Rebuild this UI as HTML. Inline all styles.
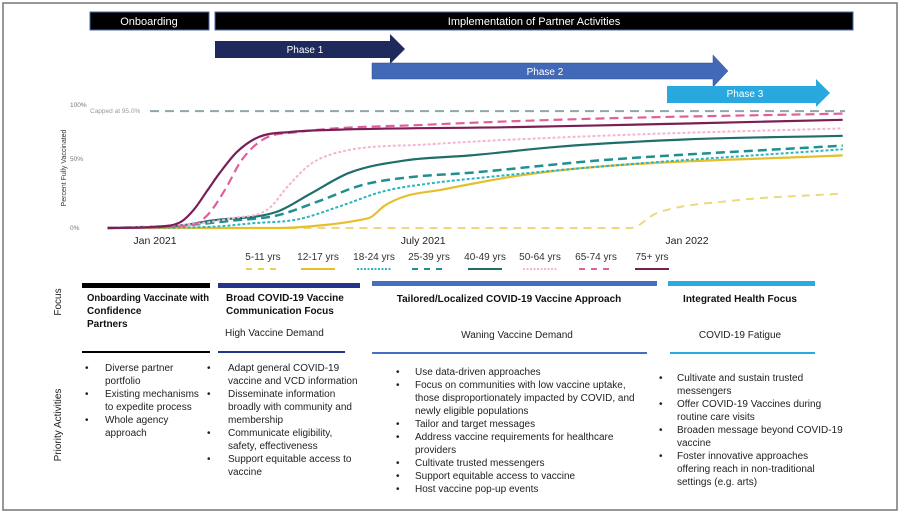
<!DOCTYPE html>
<html><head><meta charset="utf-8">
<style>
html,body{margin:0;padding:0;background:#fff}
svg{display:block;font-family:"Liberation Sans",sans-serif}
.b{font-weight:bold;font-size:10px;fill:#111}
.t{font-size:10px;fill:#222}
</style></head>
<body>
<svg id="chart" width="900" height="513" viewBox="0 0 900 513">
<rect x="3" y="3" width="894" height="507" fill="#fff" stroke="#777" stroke-width="1.5"/>
<g>
<rect x="90" y="12" width="119" height="18" fill="#000" stroke="#4a6aa8"/>
<text x="149" y="25" fill="#fff" font-size="11" text-anchor="middle">Onboarding</text></g>
<g>
<rect x="215" y="12" width="638" height="18" fill="#000" stroke="#4a6aa8"/>
<text x="534" y="25" fill="#fff" font-size="11" text-anchor="middle">Implementation of Partner Activities</text></g>
<g>
<polygon points="215,41 390,41 390,34 405,49 390,64 390,58 215,58" fill="#1f2a5c"/>
<text x="305" y="53" fill="#fff" font-size="10" text-anchor="middle">Phase 1</text></g>
<g>
<polygon points="372,63 713,63 713,55 728,71 713,87 713,79 372,79" fill="#4169b8" stroke="#2f4f8f" stroke-width="0.5"/>
<text x="545" y="75" fill="#fff" font-size="10" text-anchor="middle">Phase 2</text></g>
<g>
<polygon points="667,86 816,86 816,79 830,93 816,107 816,103 667,103" fill="#29a8e0"/>
<text x="745" y="97" fill="#fff" font-size="10" text-anchor="middle">Phase 3</text></g>
<text transform="translate(66,168) rotate(-90)" font-size="7" fill="#333" text-anchor="middle">Percent Fully Vaccinated</text>
<g id="yticks" font-size="6.5" fill="#777"></g>
<g id="xticks" font-size="10.5" fill="#222"></g>
<text x="90" y="113" font-size="6.5" fill="#999">Capped at 95.0%</text>
<g id="series"></g>
<g id="legend" font-size="10" fill="#333"></g>
<text transform="translate(61,302) rotate(-90)" font-size="10" fill="#222" text-anchor="middle">Focus</text>
<text transform="translate(61,425) rotate(-90)" font-size="10" fill="#222" text-anchor="middle">Priority Activities</text>
<g>
<rect x="82" y="283" width="128" height="5" fill="#000"/>
<text class="b" x="87" y="301" textLength="122" lengthAdjust="spacingAndGlyphs">Onboarding Vaccinate with</text>
<text class="b" x="87" y="314">Confidence</text>
<text class="b" x="87" y="327">Partners</text>
<rect x="82" y="351" width="128" height="2" fill="#000"/>
<g class="t">
<text x="85" y="371">•</text><text x="105" y="371">Diverse partner</text><text x="105" y="384">portfolio</text>
<text x="85" y="397">•</text><text x="105" y="397">Existing mechanisms</text><text x="105" y="410">to expedite process</text>
<text x="85" y="423">•</text><text x="105" y="423">Whole agency</text><text x="105" y="436">approach</text>
</g></g>
<g>
<rect x="218" y="283" width="142" height="5" fill="#24348a"/>
<text class="b" x="226" y="301">Broad COVID-19 Vaccine</text>
<text class="b" x="226" y="314">Communication Focus</text>
<text class="t" x="225" y="336">High Vaccine Demand</text>
<rect x="218" y="351" width="127" height="2" fill="#24348a"/>
<g class="t">
<text x="207" y="371">•</text><text x="228" y="371">Adapt general COVID-19</text><text x="228" y="384">vaccine and VCD information</text>
<text x="207" y="397">•</text><text x="228" y="397">Disseminate information</text><text x="228" y="410">broadly with community and</text><text x="228" y="423">membership</text>
<text x="207" y="436">•</text><text x="228" y="436">Communicate eligibility,</text><text x="228" y="449">safety, effectiveness</text>
<text x="207" y="462">•</text><text x="228" y="462">Support equitable access to</text><text x="228" y="475">vaccine</text>
</g></g>
<g>
<rect x="372" y="281" width="285" height="5" fill="#4470c4"/>
<text class="b" x="509" y="302" text-anchor="middle">Tailored/Localized COVID-19 Vaccine Approach</text>
<text class="t" x="517" y="338" text-anchor="middle">Waning Vaccine Demand</text>
<rect x="372" y="352" width="275" height="2" fill="#4470c4"/>
<g class="t">
<text x="396" y="375">•</text><text x="415" y="375">Use data-driven approaches</text>
<text x="396" y="388">•</text><text x="415" y="388">Focus on communities with low vaccine uptake,</text><text x="415" y="401">those disproportionately impacted by COVID, and</text><text x="415" y="414">newly eligible populations</text>
<text x="396" y="427">•</text><text x="415" y="427">Tailor and target messages</text>
<text x="396" y="440">•</text><text x="415" y="440">Address vaccine requirements for healthcare</text><text x="415" y="453">providers</text>
<text x="396" y="466">•</text><text x="415" y="466">Cultivate trusted messengers</text>
<text x="396" y="479">•</text><text x="415" y="479">Support equitable access to vaccine</text>
<text x="396" y="492">•</text><text x="415" y="492">Host vaccine pop-up events</text>
</g></g>
<g>
<rect x="668" y="281" width="147" height="5" fill="#29abe2"/>
<text class="b" x="740" y="302" text-anchor="middle">Integrated Health Focus</text>
<text class="t" x="740" y="338" text-anchor="middle">COVID-19 Fatigue</text>
<rect x="670" y="352" width="145" height="2" fill="#29abe2"/>
<g class="t">
<text x="659" y="381">•</text><text x="677" y="381">Cultivate and sustain trusted</text><text x="677" y="394">messengers</text>
<text x="659" y="407">•</text><text x="677" y="407">Offer COVID-19 Vaccines during</text><text x="677" y="420">routine care visits</text>
<text x="659" y="433">•</text><text x="677" y="433">Broaden message beyond COVID-19</text><text x="677" y="446">vaccine</text>
<text x="659" y="459">•</text><text x="677" y="459">Foster innovative approaches</text><text x="677" y="472">offering reach in non-traditional</text><text x="677" y="485">settings (e.g. arts)</text>
</g></g>
</svg>
<script>
const seriesNames = ["5-11 yrs","12-17 yrs","18-24 yrs","25-39 yrs","40-49 yrs","50-64 yrs","65-74 yrs","75+ yrs"];
const s511 = [[-1.4,0],[10.7,0],[11.3,12],[13,22],[15.6,28]];
const s1217 = [[-1.4,0],[2.5,0],[3.5,2],[4.5,7],[4.7,9],[5,18],[5.5,26],[6.3,31],[8,42],[10,50],[15.6,59]];
const s1824 = [[-1.4,0],[1,1],[2,4],[3,7],[4,18],[5,30],[6,36],[7,40],[10,50],[15.6,64]];
const s2539 = [[-1.4,0],[0.3,2],[1.5,6],[2.5,10],[3.5,22],[4.5,35],[5.5,41],[7,45],[10,55],[15.6,67]];
const s4049 = [[-1.4,0],[0.3,2],[1,6],[2.5,13],[3.3,28],[4.2,45],[5.5,55],[7,59],[9,66],[12,72],[15.6,75]];
const s5064 = [[-1.4,0],[0.5,3],[1.5,8],[2.3,15],[2.8,35],[3.3,52],[4,62],[6,68],[10,75],[15.6,81]];
const s6574 = [[-1.4,0],[0.5,2],[0.9,10],[1.3,30],[1.7,55],[2.2,72],[3,78],[6,84],[10,89],[15.6,93]];
const s75 = [[-1.4,0],[-0.3,1],[0.3,5],[0.6,15],[0.9,30],[1.2,45],[1.6,62],[2.1,74],[2.8,78],[4,80],[8,82],[12,85],[15.6,88]];
const capValue = 95;
const yTickLabels = ["100%","50%","0%"];
const yTickValues = [100,56,0];
const xTickLabels = ["Jan 2021","July 2021","Jan 2022"];
const xTickValues = [-0.3,5.9,12];

const NS="http://www.w3.org/2000/svg";
const xs = m => 168 + m*43.25;
const ys = v => 228 - v*1.23;
const allData=[s511,s1217,s1824,s2539,s4049,s5064,s6574,s75];
const styles=[
 {c:"#e8cf5a",w:2,d:"8,6",o:0.8},
 {c:"#e6bf2a",w:2.2,d:"",o:1},
 {c:"#2bb5c0",w:2,d:"3,2",o:1},
 {c:"#1f8f8f",w:2.5,d:"9,5",o:1},
 {c:"#1f6e6a",w:2.2,d:"",o:1},
 {c:"#f2b5d4",w:2,d:"3,2",o:1},
 {c:"#e0609f",w:2.2,d:"9,5",o:1},
 {c:"#7a1f55",w:2.2,d:"",o:1}];
function mk(tag,attrs,parent){const e=document.createElementNS(NS,tag);for(const k in attrs)e.setAttribute(k,attrs[k]);parent.appendChild(e);return e;}
// monotone cubic (Fritsch-Carlson)
function smooth(p){
 const n=p.length,dx=[],s=[],m=[];
 for(let i=0;i<n-1;i++){dx[i]=p[i+1][0]-p[i][0];s[i]=(p[i+1][1]-p[i][1])/dx[i];}
 m[0]=s[0];m[n-1]=s[n-2];
 for(let i=1;i<n-1;i++){m[i]=(s[i-1]*s[i]<=0)?0:(s[i-1]+s[i])/2;}
 for(let i=0;i<n-1;i++){
  if(s[i]===0){m[i]=0;m[i+1]=0;continue;}
  const a=m[i]/s[i],b=m[i+1]/s[i],h=a*a+b*b;
  if(h>9){const t=3/Math.sqrt(h);m[i]=t*a*s[i];m[i+1]=t*b*s[i];}
 }
 let d='M'+p[0][0].toFixed(1)+','+p[0][1].toFixed(1);
 for(let i=0;i<n-1;i++){
  const h=dx[i]/3;
  d+=' C'+(p[i][0]+h).toFixed(1)+','+(p[i][1]+m[i]*h).toFixed(1)+' '+(p[i+1][0]-h).toFixed(1)+','+(p[i+1][1]-m[i+1]*h).toFixed(1)+' '+p[i+1][0].toFixed(1)+','+p[i+1][1].toFixed(1);
 }
 return d;
}
const yt=document.getElementById('yticks');
yTickLabels.forEach((l,i)=>{const t=mk('text',{x:70,y:ys(yTickValues[i])+2},yt);t.textContent=l;

});
const xt=document.getElementById('xticks');
xTickLabels.forEach((l,i)=>{const t=mk('text',{x:xs(xTickValues[i]),y:244,'text-anchor':'middle'},xt);t.textContent=l;

});
const sg=document.getElementById('series');
const cap=mk('line',{x1:150,x2:845,y1:ys(capValue),y2:ys(capValue),stroke:'#8fa6ad','stroke-width':2,'stroke-dasharray':'9,6'},sg);


allData.forEach((d,i)=>{const st=styles[i];
 const pts=d.map(q=>[xs(q[0]),ys(q[1])]);
 const p=mk('path',{d:smooth(pts),fill:'none',stroke:st.c,'stroke-width':st.w,'stroke-dasharray':st.d,opacity:st.o,'stroke-linejoin':'round'},sg);
 
 
});
const lg=document.getElementById('legend');
const lx=[263,318,374,429,485,540,596,652];
seriesNames.forEach((n,i)=>{const st=styles[i];
 const g=mk('g',{},lg);
 
 
 const t=mk('text',{x:lx[i],y:260,'text-anchor':'middle'},g);t.textContent=n;
 mk('line',{x1:lx[i]-17,x2:lx[i]+17,y1:269,y2:269,stroke:st.c,'stroke-width':2,'stroke-dasharray':st.d?(st.d==="3,2"?"2,1.5":"6,6"):""},g);
});
</script>
</body></html>
